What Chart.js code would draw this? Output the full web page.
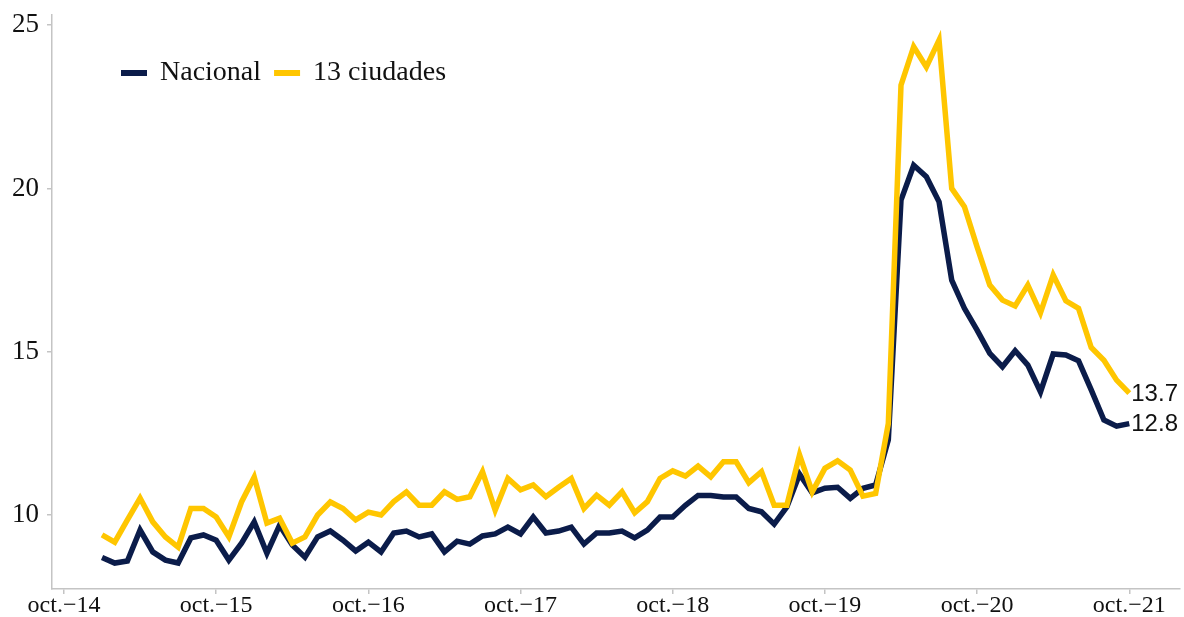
<!DOCTYPE html>
<html>
<head>
<meta charset="utf-8">
<script src="https://cdn.jsdelivr.net/npm/chart.js@4"></script>
<style>
  html, body { margin: 0; padding: 0; background: #fff; }
  #wrap { width: 1184px; height: 617px; }
</style>
</head>
<body>
<div id="wrap"><canvas id="grafico"></canvas></div>
<script>
// tasa mensual, ene-2015 a oct-2021
const nacional = [8.7, 8.53, 8.59, 9.54, 8.87, 8.62, 8.53, 9.3, 9.39, 9.23,
  8.62, 9.14, 9.79, 8.83, 9.69, 9.08, 8.71, 9.33, 9.51, 9.23,
  8.9, 9.17, 8.87, 9.45, 9.51, 9.33, 9.42, 8.87, 9.2, 9.11,
  9.36, 9.42, 9.63, 9.42, 9.94, 9.45, 9.51, 9.63, 9.11, 9.45,
  9.45, 9.51, 9.3, 9.54, 9.94, 9.94, 10.3, 10.6, 10.6, 10.55,
  10.55, 10.2, 10.1, 9.72, 10.25, 11.25, 10.68, 10.82, 10.85, 10.51,
  10.82, 10.92, 12.3, 19.64, 20.71, 20.36, 19.59, 17.19, 16.33, 15.66,
  14.95, 14.54, 15.03, 14.59, 13.77, 14.93, 14.9, 14.72, 13.83, 12.91,
  12.72, 12.8];
const ciudades = [9.39, 9.17, 9.85, 10.52, 9.79, 9.33, 9.02, 10.2, 10.2, 9.94,
  9.33, 10.4, 11.16, 9.75, 9.9, 9.14, 9.33, 10.0, 10.4, 10.2,
  9.85, 10.09, 10.0, 10.41, 10.71, 10.3, 10.3, 10.71, 10.48, 10.56,
  11.33, 10.15, 11.12, 10.77, 10.92, 10.56, 10.85, 11.12, 10.2, 10.61,
  10.3, 10.71, 10.07, 10.41, 11.12, 11.35, 11.19, 11.5, 11.17, 11.63,
  11.63, 10.99, 11.33, 10.3, 10.3, 11.84, 10.71, 11.43, 11.66, 11.38,
  10.58, 10.66, 12.8, 23.16, 24.34, 23.72, 24.54, 20.0, 19.44, 18.21,
  17.04, 16.58, 16.4, 17.04, 16.19, 17.35, 16.56, 16.33, 15.13, 14.74,
  14.13, 13.73];

// eje x en meses contados desde oct-14
const primerMes = 3; // ene-15
const etiquetasX = ['oct.−14', 'oct.−15', 'oct.−16', 'oct.−17', 'oct.−18', 'oct.−19', 'oct.−20', 'oct.−21'];
const mesesEtiquetas = [0, 12, 24, 36, 48, 60, 72, 84];
const ticksY = [10, 15, 20, 25];

const serie = vals => vals.map((v, i) => ({ x: primerMes + i, y: v }));

const gris = '#c4c4c4';
const fuenteSerif = 'Liberation Serif';

const leyenda = {
  id: 'leyenda',
  afterDraw(chart) {
    const ctx = chart.ctx;
    ctx.save();
    ctx.font = '28px "' + fuenteSerif + '"';
    ctx.textBaseline = 'middle';
    let x = 121;
    const y = 73;
    chart.data.datasets.forEach(ds => {
      ctx.fillStyle = ds.borderColor;
      ctx.fillRect(x, y - 3, 26, 6);
      x += 26 + 13;
      ctx.fillStyle = '#111';
      ctx.fillText(ds.label, x, y);
      x += ctx.measureText(ds.label).width + 13;
    });
    ctx.restore();
  }
};

const valoresFinales = {
  id: 'valoresFinales',
  afterDatasetsDraw(chart) {
    const ctx = chart.ctx;
    ctx.save();
    ctx.font = '24px "Liberation Sans"';
    ctx.textBaseline = 'middle';
    ctx.fillStyle = '#111';
    chart.data.datasets.forEach((ds, k) => {
      const pts = chart.getDatasetMeta(k).data;
      const p = pts[pts.length - 1];
      const v = ds.data[ds.data.length - 1].y;
      ctx.fillText(v.toFixed(1), p.x + 2, p.y + 1);
    });
    ctx.restore();
  }
};

const ctx = document.getElementById('grafico').getContext('2d');
new Chart(ctx, {
  type: 'line',
  data: {
    datasets: [{
      label: 'Nacional',
      data: serie(nacional),
      borderColor: '#0b1c4a',
      backgroundColor: '#0b1c4a',
      borderWidth: 5.5,
      pointRadius: 0,
      order: 1
    }, {
      label: '13 ciudades',
      data: serie(ciudades),
      borderColor: '#ffc600',
      backgroundColor: '#ffc600',
      borderWidth: 5.5,
      pointRadius: 0,
      order: 0
    }]
  },
  options: {
    responsive: true,
    maintainAspectRatio: false,
    animation: false,
    layout: { padding: { top: 15, right: 4, left: 0, bottom: 0 } },
    plugins: {
      legend: { display: false },
      tooltip: { enabled: false }
    },
    scales: {
      x: {
        type: 'linear',
        min: -0.946,
        max: 88.0,
        afterBuildTicks: s => { s.ticks = mesesEtiquetas.map(v => ({ value: v })); },
        afterFit: s => { s.height = 28; },
        ticks: {
          autoSkip: false,
          maxRotation: 0,
          padding: 0,
          color: '#111',
          font: { family: fuenteSerif, size: 24, lineHeight: 1 },
          callback: (v, i) => etiquetasX[i]
        },
        grid: { drawOnChartArea: false, tickLength: 5, color: gris, lineWidth: 1.5 },
        border: { color: gris, width: 1.5 }
      },
      y: {
        min: 7.735,
        max: 25.31,
        afterBuildTicks: s => { s.ticks = ticksY.map(v => ({ value: v })); },
        afterFit: s => { s.width = 52; },
        ticks: {
          padding: 8,
          color: '#111',
          font: { family: fuenteSerif, size: 27, lineHeight: 0.2 }
        },
        grid: { drawOnChartArea: false, tickLength: 5, color: gris, lineWidth: 1.5 },
        border: { color: gris, width: 1.5 }
      }
    }
  },
  plugins: [leyenda, valoresFinales]
});
</script>
</body>
</html>
